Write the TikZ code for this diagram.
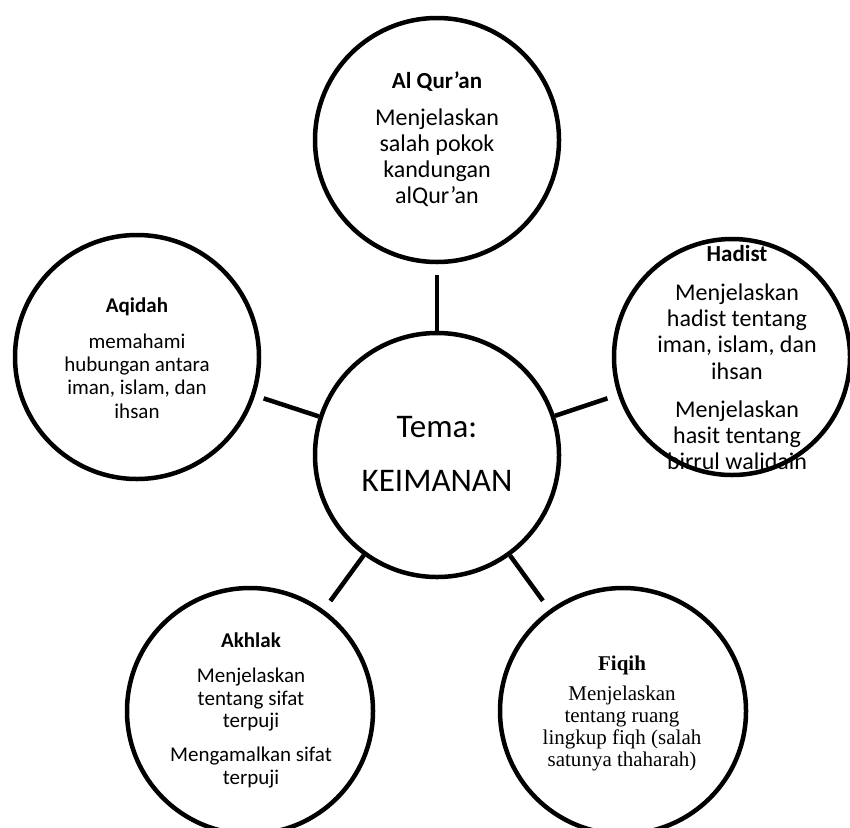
\documentclass[tikz,border=0pt]{standalone}
\usepackage{fontspec}
\setmainfont{Carlito}
\newfontfamily\timesfont{Liberation Serif}
\begin{document}
\begin{tikzpicture}[x=1pt,y=-1pt,
  bubble/.style={circle,draw=black,line width=4.5pt,minimum size=#1,inner sep=0pt},
  link/.style={line width=4.5pt},
  txt/.style={align=center,inner sep=0pt,anchor=north}]
\useasboundingbox (0,0) rectangle (850,827);

% texts
\node[txt,font=\fontsize{24}{26}\selectfont] (quranT) at (437,71.5)
  {{\bfseries\fontsize{23}{26}\selectfont Al Qur’an}\\[11pt]
   Menjelaskan\\ salah pokok\\ kandungan\\ alQur’an};
\node[txt,font=\fontsize{24}{26.3}\selectfont] (hadistT) at (737,245.5)
  {{\bfseries\fontsize{23}{26}\selectfont Hadist}\\[12pt]
   Menjelaskan\\ hadist tentang\\ iman, islam, dan\\ ihsan\\[12pt]
   Menjelaskan\\ hasit tentang\\ birrul walidain};
\node[txt,font=\fontsize{21}{23.3}\selectfont] (aqidahT) at (137,298)
  {{\bfseries Aqidah}\\[12pt]
   memahami\\ hubungan antara\\ iman, islam, dan\\ ihsan};
\node[txt,font=\fontsize{21}{22.5}\selectfont] (akhlakT) at (251,633)
  {{\bfseries Akhlak}\\[12.5pt]
   Menjelaskan\\ tentang sifat\\ terpuji\\[11.5pt]
   Mengamalkan sifat\\ terpuji};
\node[txt,font=\timesfont\fontsize{21}{22}\selectfont] (fiqihT) at (622,655.5)
  {{\bfseries Fiqih}\\[8pt]
   Menjelaskan\\ tentang ruang\\ lingkup fiqh (salah\\ satunya thaharah)};
\node[txt,font=\fontsize{33}{40}\selectfont] (cenT) at (437,416.5)
  {Tema:\\[14pt] KEIMANAN};

% circles
\node[bubble=244pt] (cen) at (437,455) {};
\node[bubble=244pt] (quran) at (437,140) {};
\node[bubble=236pt] (hadist) at (732,357) {};
\node[bubble=244pt] (aqidah) at (137,357) {};
\node[bubble=246pt] (akhlak) at (250,711) {};
\node[bubble=246pt] (fiqih) at (623,711) {};

% connectors
\draw[link,shorten >=11pt] (cen) -- (quran);
\draw[link,shorten >=11pt] (cen) -- (hadist);
\draw[link,shorten >=9pt] (cen) -- (aqidah);
\draw[link,shorten >=11pt] (cen) -- (akhlak);
\draw[link,shorten >=11pt] (cen) -- (fiqih);
\end{tikzpicture}
\end{document}
